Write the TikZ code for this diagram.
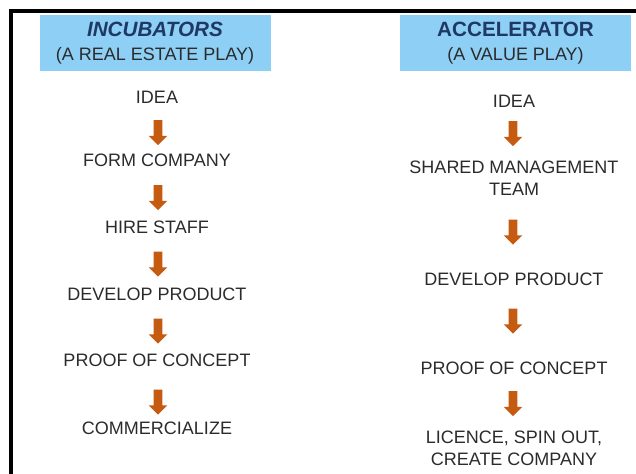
\documentclass[tikz,border=0pt]{standalone}
\usepackage{fontspec}
\setmainfont{Liberation Sans}
\usepackage{tikz}
\usetikzlibrary{
shapes,
shapes.arrows,
calc
}
\usepackage{xcolor}
\definecolor{boxblue}{HTML}{8DCFF5}
\definecolor{titlenavy}{HTML}{1F3864}
\definecolor{stepgray}{HTML}{2B2B2B}
\definecolor{arrowbrown}{HTML}{C55A11}

\begin{document}
\begin{tikzpicture}[x=0.75pt,y=-0.75pt,
    headbox/.style={fill=boxblue, draw=none, align=center, inner sep=0pt,
      minimum width=231*0.75pt, minimum height=56*0.75pt,
      font=\fontsize{13.5}{18}\selectfont, text=stepgray},
    stage/.style={align=center, inner sep=0pt, text=stepgray,
      font=\fontsize{13.5}{16.5}\selectfont},
    downarrow/.style={single arrow, shape border rotate=270, fill=arrowbrown,
      draw=none, inner sep=3pt, minimum height=25*0.75pt, minimum width=18*0.75pt,
      single arrow head extend=5*0.75pt}]
    \useasboundingbox (0,0) rectangle (636,474);
    \coordinate (L) at (157,0);
    \coordinate (R) at (514,0);
    % frame
    \draw[line width=3pt] (636,11) -- (11,11) -- (11,474);
    % headers
    \node[headbox] (inc) at (155,43.5) {{\fontsize{15.5}{18}\selectfont\color{titlenavy}\textbf{\textit{INCUBATORS}}}\\(A REAL ESTATE PLAY)};
    \node[headbox] (acc) at (515.5,43.5) {{\fontsize{15.5}{18}\selectfont\color{titlenavy}\textbf{ACCELERATOR}}\\(A VALUE PLAY)};
    % incubator steps
    \node[stage] (l1) at ($(L)+(0,97)$) {IDEA};
    \node[stage] (l2) at ($(L)+(0,160)$) {FORM COMPANY};
    \node[stage] (l3) at ($(L)+(0,227)$) {HIRE STAFF};
    \node[stage] (l4) at ($(L)+(0,294)$) {DEVELOP PRODUCT};
    \node[stage] (l5) at ($(L)+(0,360)$) {PROOF OF CONCEPT};
    \node[stage] (l6) at ($(L)+(0,428)$) {COMMERCIALIZE};
    \node[downarrow] (la1) at (158,130.5) {};
    \node[downarrow] (la2) at (158,195.5) {};
    \node[downarrow] (la3) at (158,262) {};
    \node[downarrow] (la4) at (158,329) {};
    \node[downarrow] (la5) at (158,400) {};
    % accelerator steps
    \node[stage] (r1) at ($(R)+(0,101)$) {IDEA};
    \node[stage] (r2) at ($(R)+(0,178)$) {SHARED MANAGEMENT\\TEAM};
    \node[stage] (r3) at ($(R)+(0,279)$) {DEVELOP PRODUCT};
    \node[stage] (r4) at ($(R)+(0,368)$) {PROOF OF CONCEPT};
    \node[stage] (r5) at ($(R)+(0,448)$) {LICENCE, SPIN OUT,\\CREATE COMPANY};
    \node[downarrow] (ra1) at (513,131.5) {};
    \node[downarrow] (ra2) at (513,230) {};
    \node[downarrow] (ra3) at (513,319) {};
    \node[downarrow] (ra4) at (513,401.5) {};
\end{tikzpicture}
\end{document}
